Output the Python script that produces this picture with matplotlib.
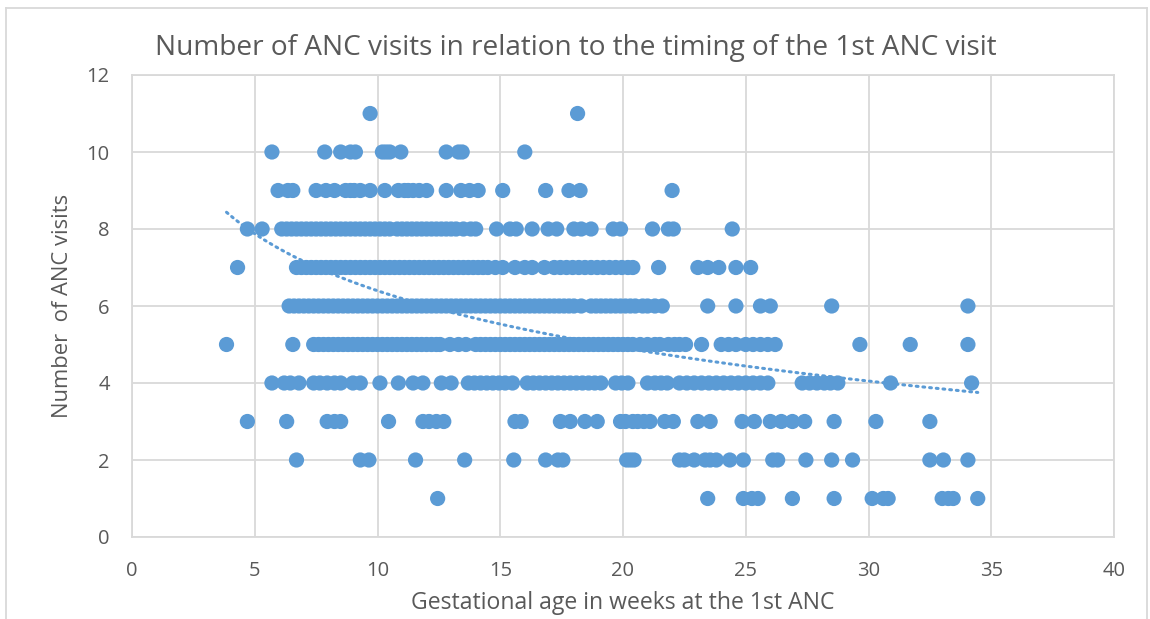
import numpy as np
import matplotlib.pyplot as plt

# gestational age (weeks) at 1st ANC visit, grouped by number of ANC visits
x_v11 = [9.7, 18.15]
x_v10 = [5.7, 7.85, 8.5, 8.9, 9.1, 10.2, 10.35, 10.5, 10.95, 12.8, 13.3, 13.45, 16.0]
x_v9 = [5.95, 6.35, 6.55, 7.5, 7.9, 8.25, 8.7, 8.9, 9.05, 9.3, 9.7, 10.3, 10.85,
        11.1, 11.25, 11.45, 11.7, 12.0, 12.8, 13.4, 13.75, 14.1, 15.1, 16.85,
        17.8, 18.25, 22.0]
x_v8 = [4.7, 5.3, 6.1, 6.3, 6.5, 6.7, 6.9, 7.1, 7.3, 7.5, 7.7, 7.9, 8.1, 8.3,
        8.5, 8.7, 8.9, 9.1, 9.3, 9.5, 9.7, 9.9, 10.1, 10.3, 10.5, 10.8, 11.0,
        11.2, 11.4, 11.6, 11.8, 12.0, 12.2, 12.4, 12.6, 12.8, 13.0, 13.2, 13.5,
        13.8, 14.0, 14.85, 15.4, 15.65, 16.3, 16.95, 17.3, 18.0, 18.3, 18.7,
        19.6, 19.9, 21.2, 21.85, 22.05, 24.45]
x_v7 = [4.3, 6.7, 6.9, 7.1, 7.3, 7.5, 7.7, 7.9, 8.1, 8.3, 8.5, 8.7, 8.9, 9.1,
        9.3, 9.5, 9.7, 9.9, 10.1, 10.3, 10.5, 10.7, 10.9, 11.1, 11.3, 11.5,
        11.7, 11.9, 12.1, 12.3, 12.5, 12.7, 12.9, 13.1, 13.3, 13.5, 13.7, 13.9,
        14.1, 14.3, 14.5, 14.8, 15.1, 15.6, 16.0, 16.3, 16.8, 17.2, 17.45,
        17.7, 17.95, 18.2, 18.45, 18.7, 18.95, 19.2, 19.45, 19.7, 19.95, 20.2,
        20.4, 21.45, 23.05, 23.45, 23.9, 24.6, 25.2]
x_v6 = [6.4, 6.6, 6.8, 7.0, 7.2, 7.4, 7.6, 7.8, 8.0, 8.2, 8.4, 8.6, 8.8, 9.0,
        9.2, 9.4, 9.6, 9.8, 10.0, 10.2, 10.4, 10.6, 10.8, 11.0, 11.2, 11.4,
        11.6, 11.8, 12.0, 12.2, 12.4, 12.6, 12.8, 13.0, 13.2, 13.4, 13.6, 13.8,
        14.0, 14.2, 14.4, 14.6, 14.8, 15.0, 15.2, 15.4, 15.6, 15.8, 16.0, 16.2,
        16.4, 16.6, 16.8, 17.0, 17.2, 17.4, 17.6, 17.8, 18.0, 18.3, 18.7, 18.9,
        19.1, 19.3, 19.5, 19.7, 19.9, 20.1, 20.3, 20.5, 20.8, 21.0, 21.3,
        21.6, 23.45, 24.6, 25.6, 26.0, 28.5, 34.05]
x_v5 = [3.85, 6.55, 7.4, 7.6, 7.8, 8.0, 8.2, 8.4, 8.6, 8.8, 9.0, 9.2, 9.4, 9.6,
        9.8, 10.0, 10.2, 10.4, 10.6, 10.8, 11.0, 11.2, 11.4, 11.6, 11.8, 12.0,
        12.2, 12.4, 12.55, 12.95, 13.3, 13.6, 14.0, 14.2, 14.4, 14.6, 14.8,
        15.0, 15.2, 15.4, 15.6, 15.8, 16.0, 16.2, 16.4, 16.6, 16.8, 17.0, 17.2,
        17.4, 17.6, 17.8, 18.0, 18.2, 18.4, 18.6, 18.8, 19.0, 19.2, 19.4, 19.6,
        19.8, 20.0, 20.2, 20.4, 20.7, 21.0, 21.3, 21.5, 21.85, 22.1, 22.3,
        22.55, 23.2, 24.0, 24.3, 24.6, 25.0, 25.3, 25.6, 25.9, 26.2, 29.65,
        31.7, 34.05]
x_v4 = [5.7, 6.2, 6.45, 6.8, 7.4, 7.65, 7.95, 8.25, 8.5, 9.0, 9.3, 10.1, 10.85,
        11.45, 11.85, 12.6, 13.0, 13.7, 13.95, 14.2, 14.45, 14.7, 14.95, 15.2,
        15.5, 16.1, 16.35, 16.6, 16.85, 17.1, 17.35, 17.6, 17.85, 18.1, 18.35,
        18.6, 18.85, 19.1, 19.7, 19.95, 20.2, 21.0, 21.3, 21.55, 21.8, 22.3,
        22.6, 22.9, 23.2, 23.5, 23.8, 24.1, 24.4, 24.7, 25.0, 25.3, 25.6, 25.9,
        27.3, 27.6, 27.9, 28.2, 28.45, 28.75, 30.9, 34.2]
x_v3 = [4.7, 6.3, 7.95, 8.25, 8.5, 10.45, 11.85, 12.1, 12.4, 12.7, 15.6, 15.85,
        17.45, 17.85, 18.45, 18.95, 19.9, 20.1, 20.4, 20.6, 20.85, 21.1, 21.7,
        22.05, 23.05, 23.55, 24.85, 25.35, 26.0, 26.45, 26.9, 27.4, 28.6, 30.3,
        32.5]
x_v2 = [6.7, 9.3, 9.65, 11.55, 13.55, 15.55, 16.85, 17.35, 17.55, 20.15, 20.3,
        20.45, 22.3, 22.5, 22.9, 23.35, 23.55, 23.8, 24.35, 24.9, 26.1, 26.3,
        27.45, 28.5, 29.35, 32.5, 33.05, 34.05]
x_v1 = [12.45, 23.45, 24.9, 25.25, 25.5, 26.9, 28.6, 30.15, 30.6, 30.8, 33.0,
        33.25, 33.45, 34.45]

rows = [(1, x_v1), (2, x_v2), (3, x_v3), (4, x_v4), (5, x_v5), (6, x_v6),
        (7, x_v7), (8, x_v8), (9, x_v9), (10, x_v10), (11, x_v11)]
ga = np.concatenate([np.array(v, dtype=float) for _, v in rows])
visits = np.concatenate([np.full(len(v), k, dtype=float) for k, v in rows])

BLUE = "#5B9BD5"
GREY = "#595959"
GRID = "#D9D9D9"
plt.rcParams["font.family"] = ["Open Sans", "DejaVu Sans"]

W, H = 1150, 619
fig = plt.figure(figsize=(W / 100, H / 100), dpi=100)
ax = fig.add_axes([132 / W, (H - 537) / H, (1114 - 132) / W, (537 - 75) / H])

ax.scatter(ga, visits, s=120, color=BLUE, edgecolors="none", zorder=3)

# logarithmic trendline fitted to the points (as in Excel)
b, a = np.polyfit(np.log(ga), visits, 1)
xt = np.linspace(ga.min(), ga.max(), 200)
ax.plot(xt, a + b * np.log(xt), color=BLUE, lw=2.2, ls=(0, (0.6, 1.6)),
        dash_capstyle="round", zorder=4)

ax.set_xlim(0, 40)
ax.set_ylim(0, 12)
ax.set_xticks(np.arange(0, 41, 5))
ax.set_yticks(np.arange(0, 13, 2))
ax.grid(True, color=GRID, lw=1.3)
ax.set_axisbelow(True)
for sp in ax.spines.values():
    sp.set_color(GRID)
    sp.set_linewidth(1.3)
ax.tick_params(length=0, labelsize=14.5, labelcolor=GREY)
ax.tick_params(axis="x", pad=17)
ax.tick_params(axis="y", pad=16)

fig.text(576 / W, 1 - 48 / H,
         "Number of ANC visits in relation to the timing of the 1st ANC visit",
         fontsize=20.2, color=GREY, ha="center", va="center")
ax.set_xlabel("Gestational age in weeks at the 1st ANC", fontsize=16.6, color=GREY)
ax.set_ylabel("Number  of ANC visits", fontsize=15.8, color=GREY)
ax.xaxis.set_label_coords(0.5, (537 - 603) / 462)
ax.yaxis.set_label_coords((63 - 132) / 982, 0.5)
ax.xaxis.label.set_va("center")
ax.yaxis.label.set_va("center")

# chart area border
for xs, ys in [([6, 6], [8, H]), ([6, 1147], [8, 8]), ([1147, 1147], [8, H])]:
    fig.add_artist(plt.Line2D([v / W for v in xs], [1 - v / H for v in ys],
                              color=GRID, lw=1.3))

fig.savefig("out.png", dpi=100)
